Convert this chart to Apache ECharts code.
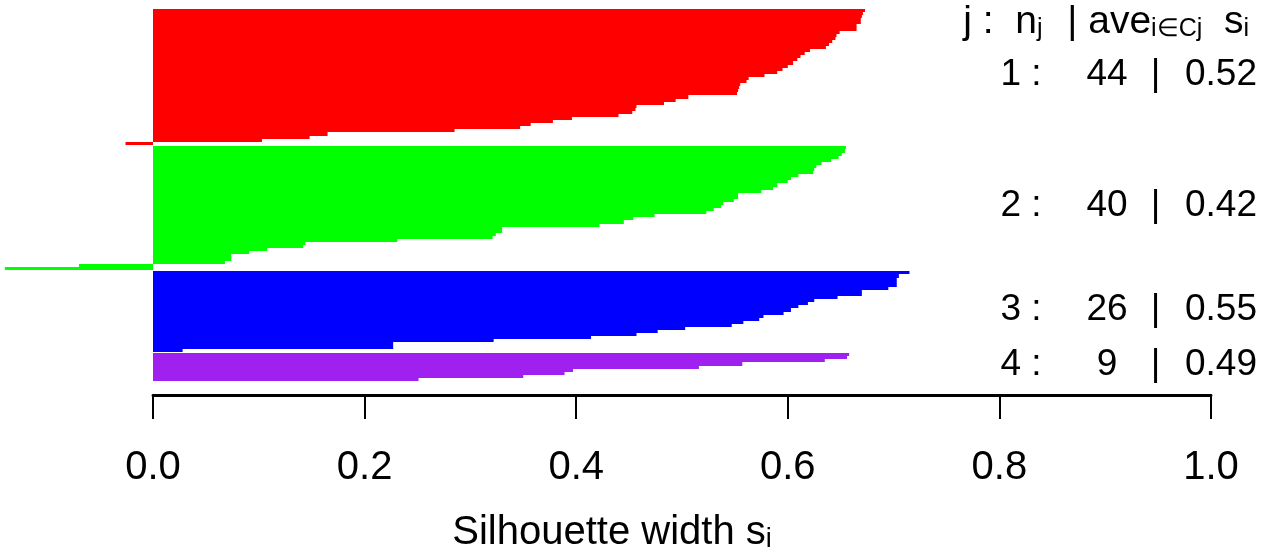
<!DOCTYPE html>
<html><head><meta charset="utf-8">
<script src="https://cdn.jsdelivr.net/npm/echarts@6/dist/echarts.min.js"></script>
<style>html,body{margin:0;padding:0;background:#fff}#c{width:1267px;height:553px}</style>
</head><body><div id="c"></div>
<script>
// ---- data (silhouette widths, sorted within each cluster) ----
const clusterIds = ['1', '2', '3', '4'];
const clusterSizes = ['44', '40', '26', '9'];
const clusterAvg = ['0.52', '0.42', '0.55', '0.49'];
const cluster1 = [0.673, 0.671, 0.670, 0.669, 0.669, 0.665, 0.665, 0.649, 0.646, 0.645,
  0.642, 0.639, 0.636, 0.621, 0.616, 0.612, 0.609, 0.605, 0.600, 0.595,
  0.590, 0.578, 0.563, 0.561, 0.555, 0.554, 0.553, 0.552, 0.506, 0.494,
  0.483, 0.457, 0.456, 0.453, 0.440, 0.396, 0.378, 0.357, 0.347, 0.285,
  0.165, 0.148, 0.103, -0.026];
const cluster2 = [0.655, 0.654, 0.651, 0.648, 0.641, 0.632, 0.627, 0.625, 0.624, 0.610,
  0.603, 0.600, 0.590, 0.586, 0.575, 0.553, 0.553, 0.549, 0.539, 0.537,
  0.530, 0.523, 0.474, 0.454, 0.445, 0.422, 0.330, 0.330, 0.324, 0.321,
  0.231, 0.144, 0.142, 0.108, 0.091, 0.074, 0.074, 0.068, -0.070, -0.140];
const cluster3 = [0.715, 0.705, 0.703, 0.703, 0.703, 0.695, 0.670, 0.670, 0.647, 0.625,
  0.619, 0.610, 0.603, 0.596, 0.577, 0.573, 0.558, 0.547, 0.503, 0.477,
  0.457, 0.414, 0.322, 0.227, 0.227, 0.028];
const cluster4 = [0.658, 0.656, 0.635, 0.557, 0.516, 0.397, 0.389, 0.350, 0.251];
const xTickLabels = ['0.0', '0.2', '0.4', '0.6', '0.8', '1.0'];

// ---- styles ----
const clusterColors = ['#FF0000', '#00FF00', '#0000FF', '#A020F0'];
const FONT = '"Liberation Sans", Arial, Helvetica, sans-serif';
const FS = 37;
const FS_AXIS = 40;

const clusters = [cluster1, cluster2, cluster3, cluster4];
const GAP = 0.5;
const barData = [];
const centers = [];
let pos = 0;
clusters.forEach((vals, ci) => {
  const start = pos;
  vals.forEach(v => { barData.push([v, pos, ci]); pos += 1; });
  centers.push((start + pos) / 2);
  pos += GAP;
});
const total = pos - GAP;

const tok = (w) => ({ width: w, align: 'center', fontSize: FS, fontFamily: FONT, color: '#000' });
const rowRich = {
  a: tok(42), p1: tok(44), b: tok(42), p2: tok(17.5), c: tok(20), p3: tok(19.5), d: tok(72)
};
const headRich = {
  t: { fontSize: 39, fontFamily: FONT, color: '#000', lineHeight: 39 },
  g: { width: 14, fontSize: 39, fontFamily: FONT, color: '#000', lineHeight: 39 },
  s: { fontSize: 25, fontFamily: FONT, color: '#000', lineHeight: 10, verticalAlign: 'bottom' }
};
const titleRich = {
  t: { fontSize: FS_AXIS, fontFamily: FONT, color: '#000', lineHeight: FS_AXIS },
  s: { fontSize: 27, fontFamily: FONT, color: '#000', lineHeight: 10, verticalAlign: 'bottom' }
};

const chart = echarts.init(document.getElementById('c'), null, { renderer: 'canvas' });
chart.setOption({
  animation: false,
  backgroundColor: '#fff',
  grid: { left: 153, right: 56, top: 9, height: 372 },
  xAxis: {
    type: 'value', position: 'bottom', min: 0, max: 1, interval: 0.2, offset: 14,
    axisLine: { show: true, onZero: false, lineStyle: { color: '#000', width: 2.8 } },
    axisTick: { show: true, length: 24, lineStyle: { color: '#000', width: 2 } },
    axisLabel: { fontSize: FS_AXIS, color: '#000', fontFamily: FONT, margin: 53,
      formatter: v => xTickLabels[Math.round(v / 0.2)] },
    splitLine: { show: false }
  },
  yAxis: { type: 'value', min: 0, max: total, inverse: true, show: false },
  series: [
    {
      type: 'custom', clip: false,
      encode: { x: 0, y: 1 },
      data: barData,
      renderItem: (params, api) => {
        const v = api.value(0), p = api.value(1), ci = api.value(2);
        const a = api.coord([0, p]);
        const b = api.coord([v, p + 1]);
        const y0 = Math.round(Math.min(a[1], b[1]));
        const y1 = Math.round(Math.max(a[1], b[1]));
        const x0 = Math.min(a[0], b[0]);
        return {
          type: 'rect',
          shape: { x: x0, y: y0, width: Math.abs(b[0] - a[0]), height: y1 - y0 },
          style: { fill: clusterColors[ci] }
        };
      }
    },
    {
      type: 'scatter', symbolSize: 0, clip: false, silent: true,
      itemStyle: { opacity: 1 },
      data: centers.map((c, i) => ({
        value: [1, c],
        label: {
          show: true, position: 'left', distance: 0, offset: [46, -2],
          color: '#000', opacity: 1, textBorderWidth: 0,
          formatter: '{a|' + clusterIds[i] + ' :}{p1| }{b|' + clusterSizes[i] + '}{p2| }{c||}{p3| }{d|' + clusterAvg[i] + '}',
          rich: rowRich
        }
      }))
    }
  ],
  graphic: [
    {
      type: 'text', x: 1249, y: 22,
      style: { text: '{t|j :  n}{s|j}{g| }{t| | ave}{s|i\u2208Cj}{t|  s}{s|i}', rich: headRich,
               align: 'right', verticalAlign: 'middle' }
    },
    {
      type: 'text', x: 612, y: 533,
      style: { text: '{t|Silhouette width s}{s|i}', rich: titleRich,
               align: 'center', verticalAlign: 'middle' }
    }
  ]
});
</script></body></html>
